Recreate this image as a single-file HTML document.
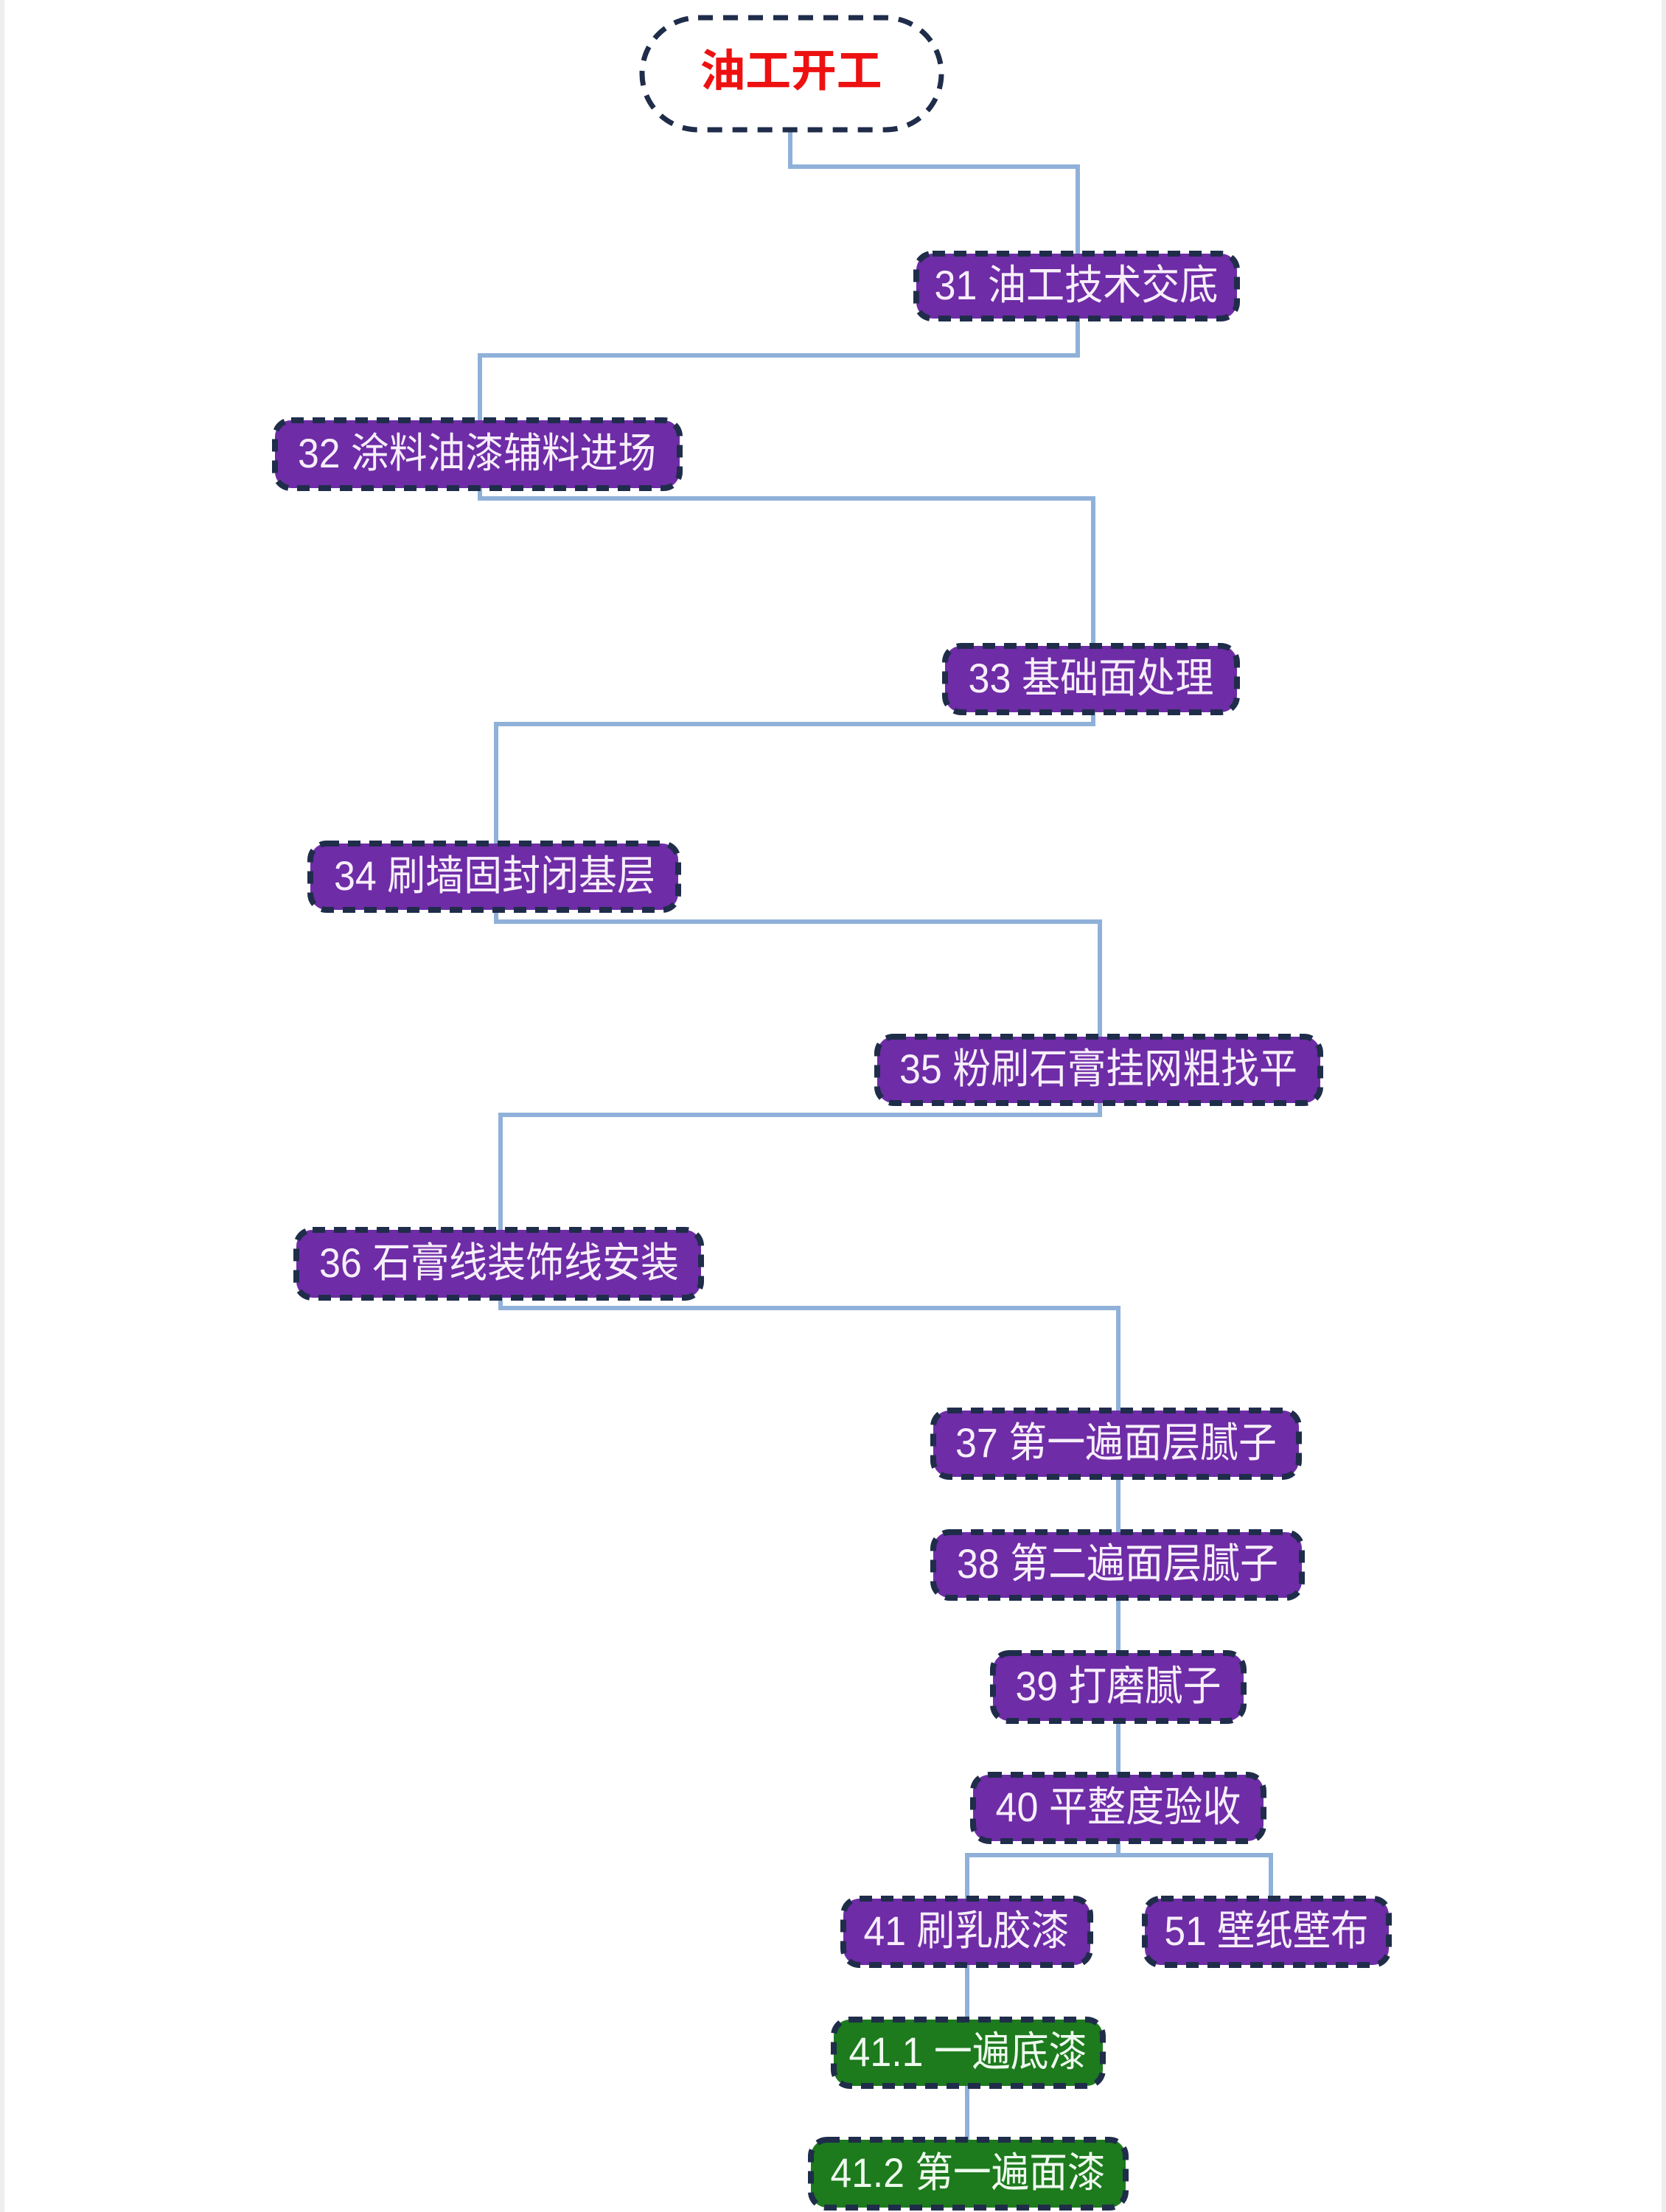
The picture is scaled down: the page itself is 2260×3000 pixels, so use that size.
<!DOCTYPE html>
<html><head><meta charset="utf-8"><style>
html,body{margin:0;padding:0;background:#fff;}
svg{display:block;}
text{font-family:"Liberation Sans","Noto Sans CJK SC",sans-serif;}
</style></head><body>
<svg width="2260" height="3000" viewBox="0 0 2260 3000" xmlns="http://www.w3.org/2000/svg">
<rect x="0" y="0" width="2260" height="3000" fill="#fff"/>
<rect x="0" y="0" width="6" height="3000" fill="#eeeeee"/>
<rect x="2254" y="0" width="6" height="3000" fill="#eeeeee"/>
<g fill="none" stroke="#8fb1d9" stroke-width="6">
<polyline points="1072,176 1072,226 1462,226 1462,344"/>
<polyline points="1462,432 1462,482 651,482 651,570"/>
<polyline points="651,662 651,676 1483,676 1483,876"/>
<polyline points="1483,966 1483,982 673,982 673,1144"/>
<polyline points="673,1234 673,1250 1492,1250 1492,1406"/>
<polyline points="1492,1496 1492,1512 679,1512 679,1668"/>
<polyline points="679,1760 679,1774 1517,1774 1517,1913"/>
<line x1="1517" y1="2003" x2="1517" y2="2078"/>
<line x1="1517" y1="2167" x2="1517" y2="2242"/>
<line x1="1517" y1="2334" x2="1517" y2="2407"/>
<line x1="1517" y1="2497" x2="1517" y2="2516"/>
<polyline points="1312,2575 1312,2516 1724,2516 1724,2575"/>
<line x1="1312" y1="2665" x2="1312" y2="2739"/>
<line x1="1312" y1="2829" x2="1312" y2="2902"/>
</g>
<rect x="871" y="24" width="406" height="152" rx="76" fill="#fff" stroke="#1f2d4a" stroke-width="7" stroke-dasharray="20 14"/>
<text x="1073" y="117" font-size="60" font-weight="bold" fill="#ee1111" text-anchor="middle" textLength="247" lengthAdjust="spacingAndGlyphs">油工开工</text>
<g stroke="#1f2d4a" stroke-width="8" stroke-dasharray="17 12">
<rect x="1243" y="344" width="435" height="88" rx="22" fill="#6e2ca6"/>
<rect x="373" y="570" width="549" height="92" rx="22" fill="#6e2ca6"/>
<rect x="1282" y="876" width="396" height="90" rx="22" fill="#6e2ca6"/>
<rect x="421" y="1144" width="499" height="90" rx="22" fill="#6e2ca6"/>
<rect x="1190" y="1406" width="601" height="90" rx="22" fill="#6e2ca6"/>
<rect x="402" y="1668" width="549" height="92" rx="22" fill="#6e2ca6"/>
<rect x="1266" y="1913" width="496" height="90" rx="22" fill="#6e2ca6"/>
<rect x="1266" y="2078" width="500" height="89" rx="22" fill="#6e2ca6"/>
<rect x="1347" y="2242" width="340" height="92" rx="22" fill="#6e2ca6"/>
<rect x="1320" y="2407" width="394" height="90" rx="22" fill="#6e2ca6"/>
<rect x="1144" y="2575" width="335" height="90" rx="22" fill="#6e2ca6"/>
<rect x="1553" y="2575" width="331" height="90" rx="22" fill="#6e2ca6"/>
<rect x="1131" y="2739" width="365" height="90" rx="22" fill="#1d7a1d"/>
<rect x="1100" y="2902" width="427" height="92" rx="22" fill="#1d7a1d"/>
</g>
<g font-size="56" fill="#f7eefa" text-anchor="middle">
<text x="1460" y="406" textLength="385" lengthAdjust="spacingAndGlyphs">31 油工技术交底</text>
<text x="647" y="634" textLength="486" lengthAdjust="spacingAndGlyphs">32 涂料油漆辅料进场</text>
<text x="1480" y="939" textLength="333" lengthAdjust="spacingAndGlyphs">33 基础面处理</text>
<text x="671" y="1207" textLength="436" lengthAdjust="spacingAndGlyphs">34 刷墙固封闭基层</text>
<text x="1490" y="1469" textLength="540" lengthAdjust="spacingAndGlyphs">35 粉刷石膏挂网粗找平</text>
<text x="677" y="1732" textLength="488" lengthAdjust="spacingAndGlyphs">36 石膏线装饰线安装</text>
<text x="1514" y="1976" textLength="436" lengthAdjust="spacingAndGlyphs">37 第一遍面层腻子</text>
<text x="1516" y="2140" textLength="436" lengthAdjust="spacingAndGlyphs">38 第二遍面层腻子</text>
<text x="1517" y="2306" textLength="279" lengthAdjust="spacingAndGlyphs">39 打磨腻子</text>
<text x="1517" y="2470" textLength="333" lengthAdjust="spacingAndGlyphs">40 平整度验收</text>
<text x="1311" y="2638" textLength="279" lengthAdjust="spacingAndGlyphs">41 刷乳胶漆</text>
<text x="1718" y="2638" textLength="277" lengthAdjust="spacingAndGlyphs">51 壁纸壁布</text>
<text x="1313" y="2802" textLength="323" lengthAdjust="spacingAndGlyphs" fill="#eefaee">41.1 一遍底漆</text>
<text x="1313" y="2966" textLength="373" lengthAdjust="spacingAndGlyphs" fill="#eefaee">41.2 第一遍面漆</text>
</g>
</svg>
</body></html>
